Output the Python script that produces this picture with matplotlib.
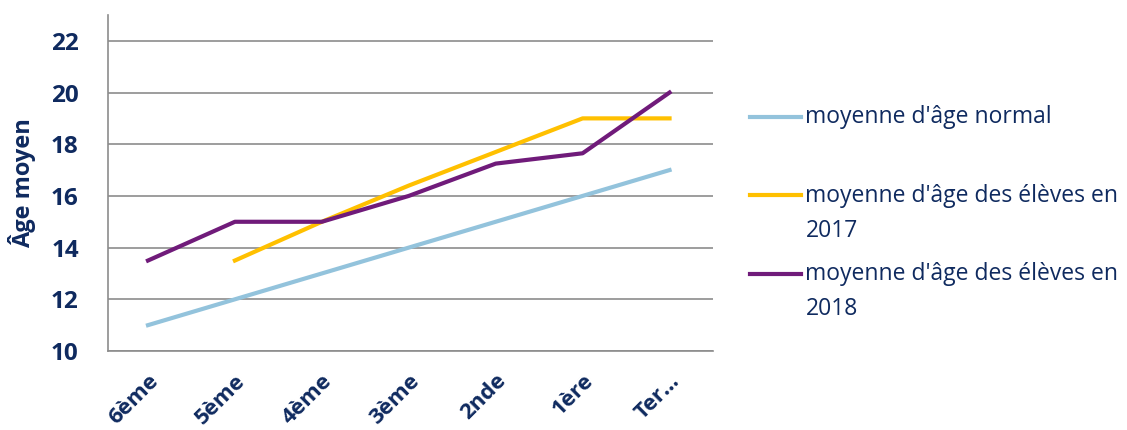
import numpy as np
import matplotlib.pyplot as plt
from matplotlib.legend_handler import HandlerLine2D

classes = ['6ème', '5ème', '4ème', '3ème', '2nde', '1ère', 'Ter…']
age_normal = [11, 12, 13, 14, 15, 16, 17]
age_2017 = [np.nan, 13.5, 15, 16.4, 17.7, 19, 19]
age_2018 = [13.5, 15, 15, 16, 17.25, 17.65, 20]

navy = '#0f2a5f'
plt.rcParams['font.family'] = ['Open Sans', 'DejaVu Sans']


# la ligne de légende alignée sur la première ligne du texte
class FirstLine(HandlerLine2D):
    def __init__(self, shift, **kw):
        super().__init__(**kw)
        self.shift = shift

    def create_artists(self, legend, orig_handle, xdescent, ydescent,
                       width, height, fontsize, trans):
        return super().create_artists(legend, orig_handle, xdescent,
                                      ydescent - 2 * self.shift, width,
                                      height, fontsize, trans)


fig = plt.figure(figsize=(11.27, 4.30), dpi=100)
ax = fig.add_axes([108/1127, 1 - 351/430, 605/1127, 336/430])

x = np.arange(len(classes))
l1, = ax.plot(x, age_normal, color='#93c3dc', lw=3, label="moyenne d'âge normal\n")
l2, = ax.plot(x, age_2017, color='#ffc000', lw=3, label="moyenne d'âge des élèves en\n2017")
l3, = ax.plot(x, age_2018, color='#701b7a', lw=3, label="moyenne d'âge des élèves en\n2018")

ax.set_xlim(-0.46, 6.5)
ax.set_ylim(10, 23)
ax.set_yticks(range(10, 23, 2))
ax.yaxis.grid(True, color='#8c8c8c', lw=1.2)
ax.set_axisbelow(True)
for s in ['top', 'right']:
    ax.spines[s].set_visible(False)
for s in ['left', 'bottom']:
    ax.spines[s].set_color('#8c8c8c')
    ax.spines[s].set_linewidth(1.2)
ax.tick_params(length=0)
ax.tick_params(axis='y', pad=21)
ax.tick_params(axis='x', pad=14)

ax.set_xticks(x)
ax.set_xticklabels(classes, rotation=45, ha='right', rotation_mode='anchor',
                   fontsize=16, fontweight='bold', color=navy)
for t in ax.get_yticklabels():
    t.set_fontsize(17.5)
    t.set_fontweight('bold')
    t.set_color(navy)
ax.set_ylabel('Âge moyen', fontsize=17, fontweight='bold', color=navy, labelpad=11)

fs = 16.5
shifts = {l1: 13.5, l2: 13.5, l3: 13.5}
leg = ax.legend(handler_map={l: FirstLine(shift=s) for l, s in shifts.items()},
                loc='upper left', bbox_to_anchor=(739/1127, 1 - 94/430),
                bbox_transform=fig.transFigure, borderpad=0, frameon=False,
                fontsize=fs, handlelength=2.2, handletextpad=0.2,
                labelspacing=0.85, labelcolor=navy)
for t in leg.get_texts():
    t.set_linespacing(1.6)

fig.savefig('out.png', dpi=100)
